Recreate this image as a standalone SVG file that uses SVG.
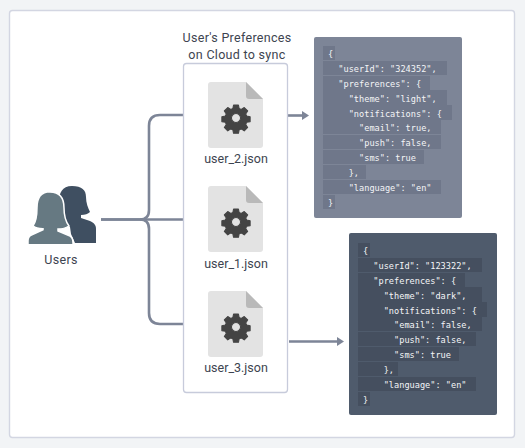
<svg xmlns="http://www.w3.org/2000/svg" width="525" height="448" viewBox="0 0 525 448">
<style>
.t{font-family:"Roboto","Liberation Sans",sans-serif;font-size:12.500px;letter-spacing:.3px;fill:#3d4450;text-anchor:middle}
.f{letter-spacing:0}
.c{fill:none;stroke:#7d8597;stroke-width:2.6}
.h{fill:#7d8597}
.code{font-family:"DejaVu Sans Mono","Liberation Mono",monospace;font-size:8.6px;fill:#f4f5f7;white-space:pre}
.d1{fill:#6f778a}.d2{fill:#454f5f}
.page{fill:#e3e3e3}.fold{fill:#b9b9b9}.gear{fill:#444;stroke:#444;stroke-width:1.500;stroke-linejoin:round}
</style>
<defs>
<g id="file">
<path class="page" d="M3 0H38L55 17V63a3 3 0 0 1-3 3H3a3 3 0 0 1-3-3V3a3 3 0 0 1 3-3Z"/>
<path class="fold" d="M38 0L55 17H41a3 3 0 0 1-3-3Z"/>
<path class="gear" fill-rule="evenodd" transform="translate(28 36) scale(.7) translate(-27.5 -38.5)" d="M24 20h7l1 5 3 1.300 4.300-2.800 4.900 4.900-2.800 4.300 1.300 3 5 1v7l-5 1-1.300 3 2.800 4.300-4.900 4.900-4.300-2.800-3 1.300-1 5h-7l-1-5-3-1.300-4.300 2.800-4.900-4.900 2.800-4.300-1.300-3-5-1v-7l5-1 1.300-3-2.800-4.300 4.900-4.900 4.300 2.800 3-1.300ZM27.500 32a6.500 6.500 0 1 0 .01 0Z"/>
</g>
</defs>
<rect width="525" height="448" fill="#f2f4f6"/>
<rect x="9.500" y="10.500" width="505" height="427" rx="3" fill="#fff" stroke="#d3d6e2" stroke-width="1.400"/>
<g id="connectors">
<path class="c" d="M101 219.500H140Q149 219.500 149 210V126Q149 115 160 115H192"/>
<path class="c" d="M101 219.500H192"/>
<path class="c" d="M140 219.500Q149 219.500 149 229V313Q149 324 160 324H192"/>
<path class="c" d="M275 115.500H303"/>
<path class="c" d="M289 341.500H339"/>
<path class="h" d="M190 110.500L197 115L190 119.500Z"/>
<path class="h" d="M190 215L197 219.500L190 224Z"/>
<path class="h" d="M190 319.500L197 324L190 328.500Z"/>
<path class="h" d="M302 111L309 115.500L302 120Z"/>
<path class="h" d="M337 337L344 341.500L337 346Z"/>
</g>
<g id="users">
<path fill="#3f4f61" d="M72 186c-10 0-13 7-13 16 0 6-1 11-3 15l6 3 8 7 1 7 4 9h21v-14c0-4-2-6-6-8l-9-3v-3c4 0 7-1 9-3-2-4-4-9-4-15 0-7-4-11-14-11Z"/>
<path fill="#667982" stroke="#fff" stroke-width="1.500" d="M50 192c10 0 14 6 14 16 0 8 2 14 5 18-3 2-7 3-11 3v2l12 5c2 1 3 4 3 7v1.800H28v-4c0-3 1-5 4-6l11-5v-1c-4 0-8-1-10-3 3-4 4-10 4-18 0-10 4-16 13-16Z"/>
<text class="t" x="61" y="264">Users</text>
</g>
<g id="cloud">
<rect x="183.500" y="63.500" width="104" height="329" rx="3" fill="#fff" stroke="#c7cbdb" stroke-width="1.300"/>
<text class="t" x="237" y="42">User's Preferences</text>
<text class="t" x="237" y="59">on Cloud to sync</text>
</g>
<g id="user_2"><use href="#file" x="208" y="82"/><text class="t f" x="236" y="163">user_2.json</text></g>
<g id="user_1"><use href="#file" x="208" y="186"/><text class="t f" x="236" y="268">user_1.json</text></g>
<g id="user_3"><use href="#file" x="208" y="291"/><text class="t f" x="236" y="372">user_3.json</text></g>
<g id="json_light">
<rect x="314" y="37" width="148" height="181" rx="2" fill="#7d8597"/>
<g class="d1">
<rect x="323" y="46" width="12" height="14"/><rect x="323" y="61" width="124" height="14"/><rect x="323" y="76" width="107" height="14"/><rect x="323" y="90" width="124" height="15"/><rect x="323" y="105" width="129" height="15"/><rect x="323" y="120" width="118" height="14"/><rect x="323" y="135" width="118" height="14"/><rect x="323" y="150" width="101" height="14"/><rect x="323" y="165" width="43" height="14"/><rect x="323" y="180" width="118" height="14"/><rect x="323" y="195" width="12" height="14"/>
</g>
<text class="code" x="328" y="57">{</text>
<text class="code" xml:space="preserve" x="328" y="72">  "userId": "324352",</text>
<text class="code" xml:space="preserve" x="328" y="87">  "preferences": {</text>
<text class="code" xml:space="preserve" x="328" y="102">    "theme": "light",</text>
<text class="code" xml:space="preserve" x="328" y="117">    "notifications": {</text>
<text class="code" xml:space="preserve" x="328" y="131">      "email": true,</text>
<text class="code" xml:space="preserve" x="328" y="146">      "push": false,</text>
<text class="code" xml:space="preserve" x="328" y="161">      "sms": true</text>
<text class="code" xml:space="preserve" x="328" y="176">    },</text>
<text class="code" xml:space="preserve" x="328" y="191">    "language": "en"</text>
<text class="code" x="328" y="206">}</text>
</g>
<g id="json_dark">
<rect x="349" y="233" width="148" height="182" rx="2" fill="#4f5b6c"/>
<g class="d2">
<rect x="358" y="243" width="12" height="14"/><rect x="358" y="258" width="124" height="14"/><rect x="358" y="273" width="107" height="14"/><rect x="358" y="287" width="124" height="15"/><rect x="358" y="302" width="129" height="15"/><rect x="358" y="317" width="124" height="14"/><rect x="358" y="332" width="118" height="14"/><rect x="358" y="347" width="101" height="14"/><rect x="358" y="362" width="40" height="14"/><rect x="358" y="377" width="118" height="14"/><rect x="358" y="392" width="12" height="14"/>
</g>
<text class="code" x="363" y="254">{</text>
<text class="code" xml:space="preserve" x="363" y="269">  "userId": "123322",</text>
<text class="code" xml:space="preserve" x="363" y="284">  "preferences": {</text>
<text class="code" xml:space="preserve" x="363" y="299">    "theme": "dark",</text>
<text class="code" xml:space="preserve" x="363" y="314">    "notifications": {</text>
<text class="code" xml:space="preserve" x="363" y="328">      "email": false,</text>
<text class="code" xml:space="preserve" x="363" y="343">      "push": false,</text>
<text class="code" xml:space="preserve" x="363" y="358">      "sms": true</text>
<text class="code" xml:space="preserve" x="363" y="373">    },</text>
<text class="code" xml:space="preserve" x="363" y="388">    "language": "en"</text>
<text class="code" x="363" y="403">}</text>
</g>
</svg>
